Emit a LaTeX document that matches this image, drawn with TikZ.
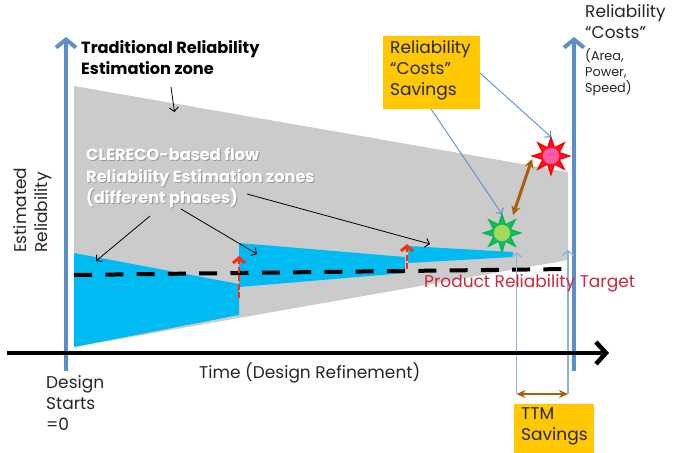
\documentclass[tikz,border=0pt]{standalone}
\usepackage{fontspec}
\setmainfont{Poppins}
\usetikzlibrary{arrows.meta,shapes.geometric}
\definecolor{axisblue}{HTML}{5B8FC9}
\definecolor{thinblue}{HTML}{8FB2DC}
\definecolor{zonegray}{HTML}{CBCBCB}
\definecolor{zoneblue}{HTML}{00BBF2}
\definecolor{gold}{HTML}{FFC800}
\definecolor{brownarrow}{HTML}{A85F0C}
\definecolor{targetred}{HTML}{C9283E}
\definecolor{redup}{HTML}{FF2B0C}
\definecolor{sungr}{HTML}{00B856}
\definecolor{discpink}{HTML}{FF5AA5}
\definecolor{discgreen}{HTML}{A5D85F}
\tikzset{
  x=1pt,y=-1pt,
  lbl/.style={anchor=north west,align=left,inner sep=0,text=black!85,font=\fontsize{17}{21.4}\selectfont},
  small/.style={anchor=north west,align=left,inner sep=0,text=black!85,font=\fontsize{12.8}{16}\selectfont},
  boldlbl/.style={anchor=north west,align=left,inner sep=0,font=\fontsize{16.2}{21.4}\selectfont\bfseries},
  goldbox/.style={fill=gold,inner sep=0,anchor=north west},
  axisarrow/.style={draw=axisblue,line width=4.5pt,-{Straight Barb[length=8pt,width=20pt,line width=4pt]}},
  timearrow/.style={draw=black,line width=4.5pt,-{Straight Barb[length=10pt,width=22pt,line width=4.5pt]}},
  thinblack/.style={draw=black,line width=.8pt,-{Straight Barb[length=4pt,width=9pt,line width=.9pt]}},
  thinaxis/.style={draw=axisblue,line width=.9pt,-{Straight Barb[length=4pt,width=9pt,line width=1pt]}},
  thinvert/.style={draw=thinblue,line width=1.3pt,-{Straight Barb[length=4.5pt,width=11pt,line width=1.3pt]}},
  upred/.style={draw=redup,line width=2.6pt,dash pattern=on 6pt off 2.5pt,-{Straight Barb[length=5pt,width=12pt,line width=3pt]}},
  brownboth/.style={draw=brownarrow,line width=3pt,{Stealth[length=9pt,width=9pt]}-{Stealth[length=9pt,width=9pt]}},
  brownttm/.style={draw=brownarrow,line width=2pt,{Stealth[length=9pt,width=8pt]}-{Stealth[length=9pt,width=8pt]}},
  sunred/.style={star,star points=8,star point ratio=2.1,minimum size=37pt,inner sep=0,draw=red,line width=1.3pt,fill=red!82!discpink},
  sungreen/.style={star,star points=8,star point ratio=2.1,minimum size=37pt,inner sep=0,draw=sungr,line width=1.3pt,fill=sungr!85!discgreen},
  disc/.style={circle,inner sep=0,minimum size=16.5pt},
}
\begin{document}
\begin{tikzpicture}
\useasboundingbox (0,0) rectangle (681,453);
% zones
\fill[zonegray] (74,86) -- (568,172) -- (568,260) -- (74,347) -- cycle;
\fill[zoneblue] (74,253) -- (239,284) -- (239,315) -- (74,347) -- cycle;
\fill[zoneblue] (239,243) -- (405,257) -- (405,273) -- (239,287) -- cycle;
\fill[zoneblue] (408,246) -- (513,252) -- (513,257) -- (408,263) -- cycle;
% target
\coordinate (ta) at (74,275); \coordinate (tb) at (568,269);
\draw[line width=4pt,dash pattern=on 18pt off 13.3pt] (ta) -- (tb);
% axes
\coordinate (y0) at (66,371); \coordinate (y1) at (66,37);
\coordinate (r0) at (574,371); \coordinate (r1) at (574,37);
\coordinate (x0) at (7,353); \coordinate (x1) at (609,353);
\draw[axisarrow] (y0) -- (y1);
\draw[axisarrow] (r0) -- (r1);
% thin vertical guides
\coordinate (g1) at (516.5,394); \coordinate (g1t) at (516.5,252);
\coordinate (g2) at (568,394); \coordinate (g2t) at (568,250);
\draw[thinvert] (g1) -- (g1t);
\draw[thinvert] (g2) -- (g2t);
\draw[timearrow] (x0) -- (x1);
\draw[brownttm] (g1) -- (g2);
% red up arrows
\coordinate (u1) at (239,298); \coordinate (u1t) at (239,256);
\coordinate (u2) at (407,269); \coordinate (u2t) at (407,244);
\draw[upred] (u1) -- (u1t);
\draw[upred] (u2) -- (u2t);
% suns
\node[sunred] (sr) at (551,156) {};
\node[disc,fill=discpink] (srd) at (551,156) {};
\node[sungreen] (sg) at (502,233) {};
\node[disc,fill=discgreen] (sgd) at (502,233) {};
% gold boxes
\node[goldbox,minimum width=97pt,minimum height=73pt] (b1) at (383,36) {};
\node[goldbox,minimum width=80pt,minimum height=49pt] (b2) at (514,404) {};
\node[lbl] (b1t) at (390,40) {Reliability\\“Costs”\\Savings};
\node[lbl] (b2t) at (521,407) {TTM\\Savings};
% text
\node[boldlbl] (trad) at (81,40) {Traditional Reliability\\Estimation zone};
\node[boldlbl,text=black!55,opacity=.55] (cs) at (87,149) {CLERECO-based flow\\Reliability Estimation zones\\(different phases)};
\node[boldlbl,text=white] (cl) at (86,148) {CLERECO-based flow\\Reliability Estimation zones\\(different phases)};
\node[lbl,rotate=90,anchor=north west] (est) at (13,253) {Estimated\\Reliability};
\node[lbl] (ds) at (46,375) {Design\\Starts\\=0};
\node[lbl] (time) at (199,362) {Time (Design Refinement)};
\node[lbl,text=targetred] (prt) at (424,274) {Product Reliability Target};
\node[lbl] (rc) at (585,4) {Reliability\\“Costs”};
\node[small] (apw) at (585,48) {(Area,\\Power,\\Speed)};
% pointers
\coordinate (p1a) at (171,87); \coordinate (p1b) at (174.5,112);
\coordinate (p2a) at (150,216); \coordinate (p2b) at (96,261);
\coordinate (p3a) at (181,209); \coordinate (p3b) at (257,254);
\coordinate (p4a) at (247,194); \coordinate (p4b) at (430,244);
\draw[thinblack] (p1a) -- (p1b);
\draw[thinblack] (p2a) -- (p2b);
\draw[thinblack] (p3a) -- (p3b);
\draw[thinblack] (p4a) -- (p4b);
\coordinate (q1) at (480,73); \coordinate (q1t) at (551,137);
\coordinate (q2) at (431,109); \coordinate (q2t) at (502,214);
\draw[thinaxis] (q1) -- (q1t);
\draw[thinaxis] (q2) -- (q2t);
\coordinate (ba) at (532,159); \coordinate (bb) at (513,215);
\draw[brownboth] (ba) -- (bb);
\end{tikzpicture}
\end{document}
